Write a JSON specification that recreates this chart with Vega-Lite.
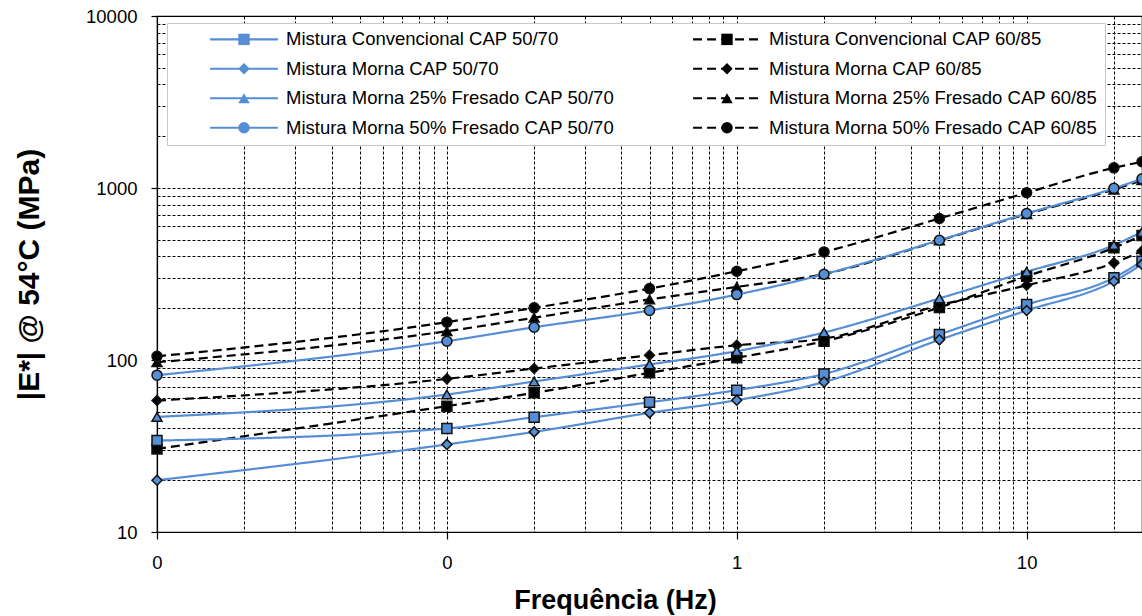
{
  "$schema": "https://vega.github.io/schema/vega-lite/v6.json",
  "width": 985,
  "height": 516,
  "autosize": "none",
  "padding": {"left": 157, "top": 16, "right": 0, "bottom": 84},
  "background": "white",
  "config": {
    "font": "Liberation Sans",
    "view": {"stroke": "#000", "strokeWidth": 1.2}
  },
  "data": {
    "values": [
      {"series": "Mistura Convencional CAP 60/85", "freq": 0.01, "E": 30.4},
      {"series": "Mistura Convencional CAP 60/85", "freq": 0.1, "E": 53.9},
      {"series": "Mistura Convencional CAP 60/85", "freq": 0.2, "E": 64.4},
      {"series": "Mistura Convencional CAP 60/85", "freq": 0.5, "E": 84.2},
      {"series": "Mistura Convencional CAP 60/85", "freq": 1, "E": 103},
      {"series": "Mistura Convencional CAP 60/85", "freq": 2, "E": 128.6},
      {"series": "Mistura Convencional CAP 60/85", "freq": 5, "E": 202},
      {"series": "Mistura Convencional CAP 60/85", "freq": 10, "E": 307},
      {"series": "Mistura Convencional CAP 60/85", "freq": 20, "E": 449},
      {"series": "Mistura Convencional CAP 60/85", "freq": 25, "E": 530},
      {"series": "Mistura Morna CAP 60/85", "freq": 0.01, "E": 58.1},
      {"series": "Mistura Morna CAP 60/85", "freq": 0.1, "E": 77.7},
      {"series": "Mistura Morna CAP 60/85", "freq": 0.2, "E": 89.2},
      {"series": "Mistura Morna CAP 60/85", "freq": 0.5, "E": 106.6},
      {"series": "Mistura Morna CAP 60/85", "freq": 1, "E": 121.9},
      {"series": "Mistura Morna CAP 60/85", "freq": 2, "E": 133},
      {"series": "Mistura Morna CAP 60/85", "freq": 5, "E": 208},
      {"series": "Mistura Morna CAP 60/85", "freq": 10, "E": 272},
      {"series": "Mistura Morna CAP 60/85", "freq": 20, "E": 367},
      {"series": "Mistura Morna CAP 60/85", "freq": 25, "E": 430},
      {"series": "Mistura Morna 25% Fresado CAP 60/85", "freq": 0.01, "E": 97},
      {"series": "Mistura Morna 25% Fresado CAP 60/85", "freq": 0.1, "E": 147},
      {"series": "Mistura Morna 25% Fresado CAP 60/85", "freq": 0.2, "E": 176},
      {"series": "Mistura Morna 25% Fresado CAP 60/85", "freq": 0.5, "E": 225},
      {"series": "Mistura Morna 25% Fresado CAP 60/85", "freq": 1, "E": 266},
      {"series": "Mistura Morna 25% Fresado CAP 60/85", "freq": 2, "E": 316},
      {"series": "Mistura Morna 25% Fresado CAP 60/85", "freq": 5, "E": 495},
      {"series": "Mistura Morna 25% Fresado CAP 60/85", "freq": 10, "E": 705},
      {"series": "Mistura Morna 25% Fresado CAP 60/85", "freq": 20, "E": 979},
      {"series": "Mistura Morna 25% Fresado CAP 60/85", "freq": 25, "E": 1110},
      {"series": "Mistura Morna 50% Fresado CAP 60/85", "freq": 0.01, "E": 105},
      {"series": "Mistura Morna 50% Fresado CAP 60/85", "freq": 0.1, "E": 166},
      {"series": "Mistura Morna 50% Fresado CAP 60/85", "freq": 0.2, "E": 201},
      {"series": "Mistura Morna 50% Fresado CAP 60/85", "freq": 0.5, "E": 260},
      {"series": "Mistura Morna 50% Fresado CAP 60/85", "freq": 1, "E": 328},
      {"series": "Mistura Morna 50% Fresado CAP 60/85", "freq": 2, "E": 425},
      {"series": "Mistura Morna 50% Fresado CAP 60/85", "freq": 5, "E": 665},
      {"series": "Mistura Morna 50% Fresado CAP 60/85", "freq": 10, "E": 938},
      {"series": "Mistura Morna 50% Fresado CAP 60/85", "freq": 20, "E": 1310},
      {"series": "Mistura Morna 50% Fresado CAP 60/85", "freq": 25, "E": 1420},
      {"series": "Mistura Convencional CAP 50/70", "freq": 0.01, "E": 34},
      {"series": "Mistura Convencional CAP 50/70", "freq": 0.1, "E": 40},
      {"series": "Mistura Convencional CAP 50/70", "freq": 0.2, "E": 46.5},
      {"series": "Mistura Convencional CAP 50/70", "freq": 0.5, "E": 56.8},
      {"series": "Mistura Convencional CAP 50/70", "freq": 1, "E": 66.8},
      {"series": "Mistura Convencional CAP 50/70", "freq": 2, "E": 83},
      {"series": "Mistura Convencional CAP 50/70", "freq": 5, "E": 140.7},
      {"series": "Mistura Convencional CAP 50/70", "freq": 10, "E": 210},
      {"series": "Mistura Convencional CAP 50/70", "freq": 20, "E": 301},
      {"series": "Mistura Convencional CAP 50/70", "freq": 25, "E": 375},
      {"series": "Mistura Morna CAP 50/70", "freq": 0.01, "E": 20},
      {"series": "Mistura Morna CAP 50/70", "freq": 0.1, "E": 32.3},
      {"series": "Mistura Morna CAP 50/70", "freq": 0.2, "E": 38.2},
      {"series": "Mistura Morna CAP 50/70", "freq": 0.5, "E": 49.3},
      {"series": "Mistura Morna CAP 50/70", "freq": 1, "E": 58.4},
      {"series": "Mistura Morna CAP 50/70", "freq": 2, "E": 74.5},
      {"series": "Mistura Morna CAP 50/70", "freq": 5, "E": 131},
      {"series": "Mistura Morna CAP 50/70", "freq": 10, "E": 194},
      {"series": "Mistura Morna CAP 50/70", "freq": 20, "E": 287},
      {"series": "Mistura Morna CAP 50/70", "freq": 25, "E": 360},
      {"series": "Mistura Morna 25% Fresado CAP 50/70", "freq": 0.01, "E": 46.7},
      {"series": "Mistura Morna 25% Fresado CAP 50/70", "freq": 0.1, "E": 63},
      {"series": "Mistura Morna 25% Fresado CAP 50/70", "freq": 0.2, "E": 75},
      {"series": "Mistura Morna 25% Fresado CAP 50/70", "freq": 0.5, "E": 94.2},
      {"series": "Mistura Morna 25% Fresado CAP 50/70", "freq": 1, "E": 112.5},
      {"series": "Mistura Morna 25% Fresado CAP 50/70", "freq": 2, "E": 144.5},
      {"series": "Mistura Morna 25% Fresado CAP 50/70", "freq": 5, "E": 228},
      {"series": "Mistura Morna 25% Fresado CAP 50/70", "freq": 10, "E": 326},
      {"series": "Mistura Morna 25% Fresado CAP 50/70", "freq": 20, "E": 466},
      {"series": "Mistura Morna 25% Fresado CAP 50/70", "freq": 25, "E": 555},
      {"series": "Mistura Morna 50% Fresado CAP 50/70", "freq": 0.01, "E": 81.6},
      {"series": "Mistura Morna 50% Fresado CAP 50/70", "freq": 0.1, "E": 128.6},
      {"series": "Mistura Morna 50% Fresado CAP 50/70", "freq": 0.2, "E": 155},
      {"series": "Mistura Morna 50% Fresado CAP 50/70", "freq": 0.5, "E": 194},
      {"series": "Mistura Morna 50% Fresado CAP 50/70", "freq": 1, "E": 240},
      {"series": "Mistura Morna 50% Fresado CAP 50/70", "freq": 2, "E": 315},
      {"series": "Mistura Morna 50% Fresado CAP 50/70", "freq": 5, "E": 497},
      {"series": "Mistura Morna 50% Fresado CAP 50/70", "freq": 10, "E": 711},
      {"series": "Mistura Morna 50% Fresado CAP 50/70", "freq": 20, "E": 995},
      {"series": "Mistura Morna 50% Fresado CAP 50/70", "freq": 25, "E": 1130}
    ]
  },
  "encoding": {
    "x": {
      "field": "freq",
      "type": "quantitative",
      "scale": {"type": "log", "domain": [0.01, 25], "nice": false},
      "axis": {
        "title": "Frequência (Hz)",
        "values": [0.01, 0.02, 0.03, 0.04, 0.05, 0.06, 0.07, 0.08, 0.09, 0.1, 0.2, 0.3, 0.4, 0.5, 0.6, 0.7, 0.8, 0.9, 1, 2, 3, 4, 5, 6, 7, 8, 9, 10, 20],
        "grid": true,
        "gridColor": "#000",
        "gridDash": [3, 2],
        "gridWidth": 1,
        "gridOpacity": 1,
        "domainColor": "#000",
        "domainWidth": 1.2,
        "tickColor": "#000",
        "tickWidth": 1.2,
        "tickSize": 7,
        "tickOpacity": {"condition": {"test": "abs(log(datum.value)/LN10 - round(log(datum.value)/LN10)) < 0.001", "value": 1}, "value": 0},
        "labelExpr": "abs(log(datum.value)/LN10 - round(log(datum.value)/LN10)) < 0.001 ? format(datum.value, '.0f') : ''",
        "labelFont": "Liberation Sans",
        "labelFontSize": 18.5,
        "labelColor": "#000",
        "labelPadding": 14,
        "labelFlush": false,
        "labelOverlap": false,
        "titleFont": "Liberation Sans",
        "titleFontSize": 27,
        "titleFontWeight": "bold",
        "titleColor": "#000",
        "titleX": 458,
        "titleY": 76,
        "titleAlign": "center",
        "titleBaseline": "alphabetic"
      }
    },
    "y": {
      "field": "E",
      "type": "quantitative",
      "scale": {"type": "log", "domain": [10, 10000], "nice": false},
      "axis": {
        "title": "|E*| @ 54°C (MPa)",
        "values": [10, 20, 30, 40, 50, 60, 70, 80, 90, 100, 200, 300, 400, 500, 600, 700, 800, 900, 1000, 2000, 3000, 4000, 5000, 6000, 7000, 8000, 9000, 10000],
        "grid": true,
        "gridColor": "#000",
        "gridDash": [3, 2],
        "gridWidth": 1,
        "gridOpacity": 1,
        "domainColor": "#000",
        "domainWidth": 1.2,
        "tickColor": "#000",
        "tickWidth": 1.2,
        "tickSize": 6,
        "tickOpacity": {"condition": {"test": "abs(log(datum.value)/LN10 - round(log(datum.value)/LN10)) < 0.001", "value": 1}, "value": 0},
        "labelExpr": "abs(log(datum.value)/LN10 - round(log(datum.value)/LN10)) < 0.001 ? format(datum.value, 'd') : ''",
        "labelFont": "Liberation Sans",
        "labelFontSize": 18.5,
        "labelColor": "#000",
        "labelPadding": 14,
        "labelFlush": false,
        "labelOverlap": false,
        "titleFont": "Liberation Sans",
        "titleFontSize": 30,
        "titleFontWeight": "bold",
        "titleColor": "#000",
        "titlePadding": 41
      }
    }
  },
  "layer": [
    {
      "mark": {"type": "line", "interpolate": "monotone", "strokeWidth": 2.2},
      "encoding": {
        "stroke": {
          "field": "series",
          "type": "nominal",
          "scale": {
            "domain": ["Mistura Convencional CAP 50/70", "Mistura Convencional CAP 60/85", "Mistura Morna CAP 50/70", "Mistura Morna CAP 60/85", "Mistura Morna 25% Fresado CAP 50/70", "Mistura Morna 25% Fresado CAP 60/85", "Mistura Morna 50% Fresado CAP 50/70", "Mistura Morna 50% Fresado CAP 60/85"],
            "range": ["#558ED5", "#000000", "#558ED5", "#000000", "#558ED5", "#000000", "#558ED5", "#000000"]
          },
          "legend": {
            "title": null,
            "orient": "none",
            "legendX": 10,
            "legendY": 7,
            "direction": "horizontal",
            "columns": 2,
            "columnPadding": 42,
            "rowPadding": 10.5,
            "padding": 7,
            "symbolType": "M-6,0L6,0",
            "symbolSize": 128,
            "symbolStrokeWidth": 2.2,
            "symbolOffset": 60.75,
            "labelOffset": 32.75,
            "labelFont": "Liberation Sans",
            "labelFontSize": 18.5,
            "labelColor": "#000",
            "labelLimit": 600,
            "fillColor": "white",
            "strokeColor": "#c8c8c8"
          }
        },
        "strokeDash": {
          "field": "series",
          "type": "nominal",
          "scale": {
            "domain": ["Mistura Convencional CAP 50/70", "Mistura Convencional CAP 60/85", "Mistura Morna CAP 50/70", "Mistura Morna CAP 60/85", "Mistura Morna 25% Fresado CAP 50/70", "Mistura Morna 25% Fresado CAP 60/85", "Mistura Morna 50% Fresado CAP 50/70", "Mistura Morna 50% Fresado CAP 60/85"],
            "range": [[1, 0], [9, 5], [1, 0], [9, 5], [1, 0], [9, 5], [1, 0], [9, 5]]
          },
          "legend": {
            "title": null,
            "orient": "none",
            "legendX": 10,
            "legendY": 7,
            "direction": "horizontal",
            "columns": 2,
            "columnPadding": 42,
            "rowPadding": 10.5,
            "padding": 7,
            "symbolType": "M-6,0L6,0",
            "symbolSize": 128,
            "symbolStrokeWidth": 2.2,
            "symbolOffset": 60.75,
            "labelOffset": 32.75,
            "labelFont": "Liberation Sans",
            "labelFontSize": 18.5,
            "labelColor": "#000",
            "labelLimit": 600,
            "fillColor": "white",
            "strokeColor": "#c8c8c8"
          }
        }
      }
    },
    {
      "mark": {"type": "point", "filled": true, "opacity": 1, "size": 100},
      "encoding": {
        "stroke": {"value": "#111111"},
        "strokeWidth": {"value": 1.5},
        "shape": {
          "field": "series",
          "type": "nominal",
          "scale": {
            "domain": ["Mistura Convencional CAP 60/85", "Mistura Convencional CAP 50/70", "Mistura Morna CAP 60/85", "Mistura Morna CAP 50/70", "Mistura Morna 25% Fresado CAP 60/85", "Mistura Morna 25% Fresado CAP 50/70", "Mistura Morna 50% Fresado CAP 60/85", "Mistura Morna 50% Fresado CAP 50/70"],
            "range": ["square", "square", "diamond", "diamond", "triangle-up", "triangle-up", "circle", "circle"]
          },
          "legend": {
            "title": null,
            "orient": "none",
            "legendX": 10,
            "legendY": 7,
            "direction": "horizontal",
            "columns": 2,
            "columnPadding": 42,
            "rowPadding": 10.5,
            "padding": 7,
            "values": ["Mistura Convencional CAP 50/70", "Mistura Convencional CAP 60/85", "Mistura Morna CAP 50/70", "Mistura Morna CAP 60/85", "Mistura Morna 25% Fresado CAP 50/70", "Mistura Morna 25% Fresado CAP 60/85", "Mistura Morna 50% Fresado CAP 50/70", "Mistura Morna 50% Fresado CAP 60/85"],
            "symbolSize": 130,
            "symbolStrokeWidth": 1.5,
            "symbolStrokeColor": "#111111",
            "symbolOffset": 60.75,
            "labelOffset": 32.75,
            "labelFont": "Liberation Sans",
            "labelFontSize": 18.5,
            "labelColor": "#000",
            "labelOpacity": 0,
            "labelLimit": 600
          }
        },
        "fill": {
          "field": "series",
          "type": "nominal",
          "scale": {
            "domain": ["Mistura Convencional CAP 60/85", "Mistura Convencional CAP 50/70", "Mistura Morna CAP 60/85", "Mistura Morna CAP 50/70", "Mistura Morna 25% Fresado CAP 60/85", "Mistura Morna 25% Fresado CAP 50/70", "Mistura Morna 50% Fresado CAP 60/85", "Mistura Morna 50% Fresado CAP 50/70"],
            "range": ["#000000", "#558ED5", "#000000", "#558ED5", "#000000", "#558ED5", "#000000", "#558ED5"]
          },
          "legend": {
            "title": null,
            "orient": "none",
            "legendX": 10,
            "legendY": 7,
            "direction": "horizontal",
            "columns": 2,
            "columnPadding": 42,
            "rowPadding": 10.5,
            "padding": 7,
            "values": ["Mistura Convencional CAP 50/70", "Mistura Convencional CAP 60/85", "Mistura Morna CAP 50/70", "Mistura Morna CAP 60/85", "Mistura Morna 25% Fresado CAP 50/70", "Mistura Morna 25% Fresado CAP 60/85", "Mistura Morna 50% Fresado CAP 50/70", "Mistura Morna 50% Fresado CAP 60/85"],
            "symbolSize": 130,
            "symbolStrokeWidth": 1.5,
            "symbolStrokeColor": "#111111",
            "symbolOffset": 60.75,
            "labelOffset": 32.75,
            "labelFont": "Liberation Sans",
            "labelFontSize": 18.5,
            "labelColor": "#000",
            "labelOpacity": 0,
            "labelLimit": 600
          }
        }
      }
    }
  ]
}
